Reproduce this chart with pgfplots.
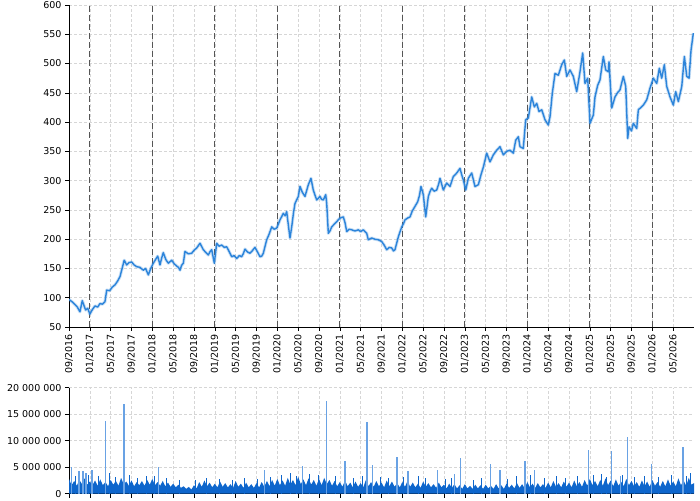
\documentclass[border=0pt]{standalone}
\usepackage{fontspec}
\setmainfont{DejaVu Sans}
\usepackage{pgfplots}
\pgfplotsset{compat=1.18}

\definecolor{priceblue}{RGB}{44,132,218}
\definecolor{volblue}{RGB}{14,102,204}
\definecolor{spikeblue}{RGB}{105,162,228}
\definecolor{gridgray}{RGB}{214,214,214}
\definecolor{yeargray}{RGB}{85,85,85}

\pgfplotsset{
  panel/.style={
    scale only axis, width=625pt,
    xmin=0, xmax=120,
    axis lines*=left,
    axis line style={black, line width=0.8pt},
    tick align=outside, major tick length=4pt,
    tick style={black, line width=0.6pt},
    xtick={0,4,...,116},
    grid=major,
    major grid style={gridgray, dash pattern=on 3pt off 2pt, line width=0.5pt},
    tick label style={font=\fontsize{9.5}{11}\selectfont},
    /pgf/number format/assume math mode=true,
  }
}

\begin{document}
\begin{tikzpicture}
% price panel
\begin{axis}[panel, at={(69pt,173pt)}, anchor=south west, height=322pt,
  ymin=50, ymax=600, ytick={50,100,...,600},
  xticklabels={09/2016,01/2017,05/2017,09/2017,01/2018,05/2018,09/2018,01/2019,05/2019,09/2019,
    01/2020,05/2020,09/2020,01/2021,05/2021,09/2021,01/2022,05/2022,09/2022,01/2023,
    05/2023,09/2023,01/2024,05/2024,09/2024,01/2025,05/2025,09/2025,01/2026,05/2026},
  xticklabel style={rotate=90, anchor=east},
  extra x ticks={4,16,28,40,52,64,76,88,100,112},
  extra x tick labels={},
  extra x tick style={major grid style={yeargray, dash pattern=on 6pt off 3pt, line width=0.8pt}},
]
\pgfplotsset{price line/.style={line join=round, no marks}}
\def\pricedata{
(0,97)(0.6,93)(1.2,88)(1.6,84)(2.1,76)(2.55,95)(2.9,86)(3.2,79)(3.6,82)(4.0,72)
(4.5,80)(5.0,86)(5.5,84)(5.95,90)(6.4,89)(6.9,93)(7.24,113)(7.8,112)(8.3,118)(8.83,122)
(9.3,128)(9.79,136)(10.2,150)(10.6,164)(11.08,156)(11.5,160)(12.04,161)(12.5,156)(13.0,153)(13.6,152)
(14.27,147)(14.7,150)(15.23,139)(15.7,150)(16.19,159)(16.6,165)(17.03,171)(17.47,156)(17.8,168)(18.1,177)
(18.6,165)(19.07,159)(19.72,164)(20.2,158)(20.68,154)(21.0,152)(21.31,147)(21.6,155)(21.95,159)(22.27,179)
(22.9,175)(23.56,176)(24.0,181)(24.52,185)(25.15,193)(25.5,187)(25.79,182)(26.2,178)(26.75,173)(27.1,179)
(27.4,182)(27.9,159)(28.36,193)(28.8,188)(29.32,190)(29.8,186)(30.28,187)(30.8,178)(31.24,170)(31.7,172)
(32.2,167)(32.7,172)(33.16,170)(33.5,176)(33.79,183)(34.3,178)(34.75,176)(35.08,179)(35.71,186)(36.2,178)
(36.67,170)(37.0,171)(37.31,176)(37.96,199)(38.4,208)(38.92,221)(39.4,217)(39.88,219)(40.2,226)(40.51,233)
(41.15,244)(41.5,240)(41.8,247)(42.1,225)(42.43,202)(42.76,221)(43.1,245)(43.39,261)(44.03,273)(44.35,290)
(44.8,280)(45.31,273)(45.95,293)(46.46,304)(46.9,284)(47.2,276)(47.56,267)(48.19,273)(48.5,268)(48.83,267)
(49.29,276)(49.48,261)(49.79,210)(50.1,214)(50.44,221)(51.07,227)(51.5,231)(52.03,236)(52.67,238)(53.0,228)
(53.32,213)(53.8,217)(54.28,216)(54.9,214)(55.55,216)(56.0,213)(56.51,216)(57.16,210)(57.47,199)(58.12,202)
(58.7,200)(59.39,199)(60.04,196)(60.5,190)(61.0,182)(61.5,186)(61.96,185)(62.3,180)(62.59,182)(63.23,204)
(63.88,221)(64.2,226)(64.51,233)(65.0,236)(65.47,238)(65.9,248)(66.43,256)(66.95,264)(67.3,275)(67.58,290)
(68.03,276)(68.49,238)(68.99,273)(69.3,281)(69.64,287)(70.1,282)(70.6,284)(71.0,295)(71.23,304)(71.87,284)
(72.52,296)(73.15,290)(73.79,307)(74.44,313)(75.07,321)(75.4,310)(75.71,301)(76.17,284)(76.67,304)(77.32,313)
(77.95,290)(78.59,293)(79.1,310)(79.55,323)(80.2,347)(80.83,332)(81.47,344)(82.12,352)(82.75,358)(83.39,344)
(84.04,350)(84.67,352)(85.31,347)(85.77,369)(86.27,375)(86.59,358)(87.22,355)(87.69,404)(88.19,407)(88.84,443)
(89.34,426)(89.8,432)(90.24,418)(90.76,421)(91.39,404)(92.03,395)(92.35,409)(92.79,449)(93.31,483)(93.95,480)
(94.6,498)(95.1,506)(95.56,478)(96.19,489)(96.83,478)(97.48,452)(98.11,486)(98.63,518)(99.07,466)(99.59,475)
(100.03,398)(100.67,412)(100.99,443)(101.51,463)(101.95,472)(102.59,512)(103.05,489)(103.55,486)(103.68,503)(104.2,424)
(104.83,443)(105.3,450)(105.79,455)(106.43,478)(106.89,461)(107.27,372)(107.52,392)(108.0,385)(108.35,398)(109.0,389)
(109.31,421)(109.8,425)(110.27,429)(110.92,438)(111.55,458)(112.19,475)(112.84,466)(113.34,492)(113.8,475)(114.3,498)
(114.76,461)(115.39,443)(116.03,429)(116.49,452)(116.99,435)(117.65,461)(118.15,512)(118.61,478)(119.05,475)(119.43,523)
(119.87,552)
}
\addplot[price line, priceblue, line width=3.2pt, opacity=0.25] coordinates {\pricedata};
\addplot[price line, priceblue, line width=1.4pt] coordinates {\pricedata};
\end{axis}

% volume panel
\begin{axis}[panel, at={(69pt,6.3pt)}, anchor=south west, height=106pt,
  ymin=0, ymax=20, ytick={0,5,10,15,20},
  yticklabels={0,5 000 000,10 000 000,15 000 000,20 000 000},
  xticklabels={},
]
\addplot[fill=volblue, draw=none] coordinates {
(0,2.8)(0.5,1.6)(1,2.4)(1.5,1.5)(2,2.6)(2.5,1.8)(3,2.9)(3.5,1.7)(4,2.3)(4.5,1.6)
(5,2.5)(5.5,1.5)(6,2.7)(6.5,1.6)(7,2.2)(7.5,1.4)(8,2.6)(8.5,1.7)(9,2.4)(9.5,1.5)
(10,3.0)(10.5,1.8)(11,2.3)(11.5,1.5)(12,2.5)(12.5,1.4)(13,2.2)(13.5,1.6)(14,2.4)(14.5,1.5)
(15,2.6)(15.5,1.7)(16,2.8)(16.5,1.6)(17,2.2)(17.5,1.5)(18,2.4)(18.5,1.4)(19,2.1)(19.5,1.3)
(20,1.9)(20.5,1.2)(21,1.7)(21.5,1.1)(22,1.4)(22.5,0.9)(23,1.3)(23.5,0.8)(24,1.6)(24.5,1.0)
(25,2.2)(25.5,1.3)(26,2.5)(26.5,1.4)(27,2.1)(27.5,1.2)(28,1.9)(28.5,1.2)(29,2.3)(29.5,1.3)
(30,2.0)(30.5,1.2)(31,1.8)(31.5,1.1)(32,2.4)(32.5,1.3)(33,1.9)(33.5,1.1)(34,2.1)(34.5,1.2)
(35,1.8)(35.5,1.1)(36,2.0)(36.5,1.2)(37,2.2)(37.5,1.3)(38,2.4)(38.5,1.4)(39,2.6)(39.5,1.5)
(40,2.8)(40.5,1.6)(41,2.5)(41.5,1.5)(42,3.0)(42.5,1.7)(43,2.6)(43.5,1.6)(44,3.2)(44.5,1.8)
(45,2.7)(45.5,1.6)(46,2.9)(46.5,1.7)(47,2.6)(47.5,1.5)(48,2.8)(48.5,1.6)(49,3.0)(49.5,1.8)
(50,2.6)(50.5,1.5)(51,2.4)(51.5,1.4)(52,2.2)(52.5,1.3)(53,2.5)(53.5,1.4)(54,2.1)(54.5,1.2)
(55,2.3)(55.5,1.3)(56,2.0)(56.5,1.2)(57,2.6)(57.5,1.4)(58,2.2)(58.5,1.3)(59,2.4)(59.5,1.4)
(60,2.1)(60.5,1.2)(61,2.5)(61.5,1.4)(62,2.3)(62.5,1.3)(63,2.0)(63.5,1.2)(64,2.2)(64.5,1.3)
(65,2.4)(65.5,1.3)(66,2.1)(66.5,1.2)(67,1.9)(67.5,1.1)(68,2.3)(68.5,1.3)(69,2.0)(69.5,1.2)
(70,1.8)(70.5,1.1)(71,2.1)(71.5,1.2)(72,1.7)(72.5,1.0)(73,1.9)(73.5,1.1)(74,1.8)(74.5,1.0)
(75,1.6)(75.5,0.9)(76,1.8)(76.5,1.0)(77,1.5)(77.5,0.9)(78,1.7)(78.5,1.0)(79,1.6)(79.5,0.9)
(80,1.7)(80.5,1.0)(81,1.5)(81.5,0.9)(82,1.8)(82.5,1.0)(83,1.6)(83.5,0.9)(84,1.9)(84.5,1.1)
(85,1.7)(85.5,1.0)(86,2.0)(86.5,1.1)(87,1.8)(87.5,1.0)(88,2.2)(88.5,1.2)(89,1.9)(89.5,1.1)
(90,2.0)(90.5,1.2)(91,1.8)(91.5,1.1)(92,2.1)(92.5,1.2)(93,2.4)(93.5,1.3)(94,2.0)(94.5,1.2)
(95,2.3)(95.5,1.3)(96,2.1)(96.5,1.2)(97,2.5)(97.5,1.4)(98,2.2)(98.5,1.3)(99,2.6)(99.5,1.5)
(100,2.8)(100.5,1.6)(101,2.4)(101.5,1.4)(102,2.6)(102.5,1.5)(103,2.9)(103.5,1.6)(104,2.5)(104.5,1.4)
(105,2.7)(105.5,1.5)(106,2.3)(106.5,1.4)(107,2.8)(107.5,1.6)(108,2.4)(108.5,1.4)(109,2.2)(109.5,1.3)
(110,2.5)(110.5,1.4)(111,2.3)(111.5,1.3)(112,2.6)(112.5,1.5)(113,2.2)(113.5,1.3)(114,2.4)(114.5,1.4)
(115,2.7)(115.5,1.5)(116,2.3)(116.5,1.4)(117,2.9)(117.5,1.6)(118,2.5)(118.5,1.5)(119,3.0)(119.5,1.7)(120,2.0)
} \closedcycle;
% moderate daily peaks
\addplot[ycomb, volblue, line width=0.9pt, no marks] coordinates {
(1.3,3.4)(3.8,3.6)(5.6,3.3)(7.7,3.9)(8.9,3.2)(11.7,3.5)(13.2,3.0)(14.9,3.3)(16.4,3.4)(18.8,2.9)
(21.2,2.6)(24.2,2.5)(26.4,3.0)(28.9,2.8)(31.3,2.6)(33.7,2.9)(36.1,2.7)(38.7,3.1)(40.8,3.6)(42.5,3.9)
(43.7,3.4)(46.2,3.8)(47.9,3.5)(51.2,3.3)(54.6,3.0)(56.3,3.4)(59.8,3.1)(61.4,2.9)(64.3,3.2)(67.1,3.3)
(68.4,3.0)(72.3,2.8)(73.4,3.0)(77.6,2.6)(79.2,2.9)(84.2,2.7)(85.9,3.3)(88.6,3.5)(91.2,3.0)(93.6,3.3)
(95.4,2.9)(97.7,3.4)(100.6,3.6)(102.3,3.8)(103.1,3.2)(106.3,3.5)(108.6,3.2)(110.4,3.4)(113.2,3.1)(115.6,3.6)
(118.6,3.3)(119.4,3.9)
};
% large spikes
\addplot[ycomb, spikeblue, line width=1.2pt, no marks] coordinates {
(0.52,5.1)(1.92,4.2)(2.69,4.3)(3.26,4.0)(4.42,4.5)(6.97,13.8)(10.56,16.9)(17.15,5.1)
(37.6,4.5)(44.9,5.3)(49.5,17.4)(52.99,6.2)(57.2,13.6)(58.2,5.5)(62.98,7.0)(65.1,4.2)
(70.7,4.5)(74.0,3.8)(75.2,6.7)(81.0,5.6)(82.75,4.5)(87.55,6.2)(89.3,4.5)(99.8,8.2)
(104.2,8.0)(105.9,3.4)(107.2,10.75)(111.9,5.6)(117.9,8.75)
};
\end{axis}
\pgfresetboundingbox
\useasboundingbox (0,0) rectangle (700pt,500pt);
\end{tikzpicture}
\end{document}
